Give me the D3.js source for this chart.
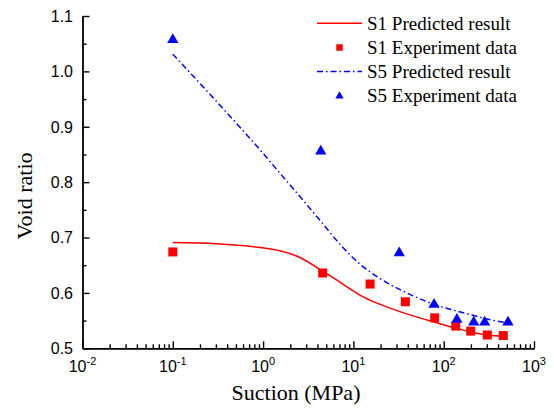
<!DOCTYPE html>
<html>
<head>
<meta charset="utf-8">
<script src="https://cdn.jsdelivr.net/npm/d3@7"></script>
<style>
  body { margin: 0; background: #fff; }
  svg { display: block; }
</style>
</head>
<body>
<div id="chart"></div>
<script>
// data
var xTicks = [ 0.01, 0.1, 1, 10, 100, 1000 ];
var xTickExp = [ "-2", "-1", "0", "1", "2", "3" ];
var yTicks = [ 0.5, 0.6, 0.7, 0.8, 0.9, 1.0, 1.1 ];
var yTickLabels = [ "0.5", "0.6", "0.7", "0.8", "0.9", "1.0", "1.1" ];

var s1PredSuction = [ 0.1, 0.3, 0.93, 1.54, 2.56, 4.57, 6.0, 8.5, 11.8, 15.3, 25, 36, 84, 139, 195, 300, 500 ];
var s1PredVoid = [ 0.691, 0.689, 0.682, 0.676, 0.664, 0.639, 0.627, 0.611, 0.596, 0.587, 0.573, 0.564, 0.546, 0.536, 0.530, 0.524, 0.5215 ];

var s1ExpSuction = [ 0.1, 4.57, 15.3, 37.6, 79.5, 136, 199, 304, 457 ];
var s1ExpVoid = [ 0.674, 0.636, 0.616, 0.584, 0.555, 0.540, 0.531, 0.524, 0.523 ];

var s5PredSuction = [ 0.1, 0.3, 1, 1.54, 2.56, 4.27, 7.1, 11.8, 15.3, 25, 35.7, 76.7, 195, 300, 500 ];
var s5PredVoid = [ 1.031, 0.947, 0.852, 0.816, 0.774, 0.731, 0.688, 0.652, 0.638, 0.616, 0.603, 0.580, 0.561, 0.553, 0.546 ];

var s5ExpSuction = [ 0.1, 4.35, 32.2, 78.2, 140, 215, 284, 515 ];
var s5ExpVoid = [ 1.057, 0.856, 0.672, 0.579, 0.552, 0.547, 0.547, 0.547 ];

var legendLabels = [ "S1 Predicted result", "S1 Experiment data", "S5 Predicted result", "S5 Experiment data" ];

var width = 554, height = 410;
var serif = "'Liberation Serif', 'Times New Roman', serif";
var sans = "'Liberation Sans', Arial, sans-serif";

var xScale = d3.scaleLog().domain( [ 0.01, 1000 ] ).range( [ 82.5, 534 ] );
var yScale = d3.scaleLinear().domain( [ 0.5, 1.1 ] ).range( [ 348.3, 16 ] );

var svg = d3.select( "#chart" ).append( "svg" )
	.attr( "width", width )
	.attr( "height", height )
	.attr( "viewBox", [ 0, 0, width, height ] );

// minor ticks
var xMinor = [];
for ( var d = -2; d < 3; d++ ) {
	for ( var k = 2; k <= 9; k++ ) {
		xMinor.push( k * Math.pow( 10, d ) );
	}
}
var yMinor = [ 0.55, 0.65, 0.75, 0.85, 0.95, 1.05 ];

function styleAxis( g ) {
	g.selectAll( "path, line" ).attr( "stroke", "#000" ).attr( "stroke-width", 1.4 );
	g.selectAll( "text" ).remove();
}

svg.append( "g" )
	.attr( "transform", "translate(0," + yScale( 0.5 ) + ")" )
	.call( d3.axisBottom( xScale ).tickValues( xMinor ).tickSize( -4 ).tickSizeOuter( 0 ) )
	.call( styleAxis );
svg.append( "g" )
	.attr( "transform", "translate(0," + yScale( 0.5 ) + ")" )
	.call( d3.axisBottom( xScale ).tickValues( xTicks ).tickSize( -7 ).tickSizeOuter( 0 ) )
	.call( styleAxis );

svg.append( "g" )
	.attr( "transform", "translate(" + xScale( 0.01 ) + ",0)" )
	.call( d3.axisLeft( yScale ).tickValues( yMinor ).tickSize( -4 ).tickSizeOuter( 0 ) )
	.call( styleAxis );
svg.append( "g" )
	.attr( "transform", "translate(" + xScale( 0.01 ) + ",0)" )
	.call( d3.axisLeft( yScale ).tickValues( yTicks ).tickSize( -7 ).tickSizeOuter( 0 ) )
	.call( styleAxis );

// tick labels
svg.append( "g" ).selectAll( "text" )
	.data( yTicks )
	.join( "text" )
	.attr( "x", 73 )
	.attr( "y", d => yScale( d ) )
	.attr( "dy", "0.36em" )
	.attr( "text-anchor", "end" )
	.style( "font-family", sans )
	.style( "font-size", "16px" )
	.text( ( d, i ) => yTickLabels[ i ] );

var xl = svg.append( "g" ).selectAll( "text" )
	.data( xTicks )
	.join( "text" )
	.attr( "x", d => xScale( d ) )
	.attr( "y", 372 )
	.attr( "text-anchor", "middle" )
	.style( "font-family", sans )
	.style( "font-size", "16px" );
xl.append( "tspan" ).text( "10" );
xl.append( "tspan" )
	.attr( "dy", -7 )
	.style( "font-size", "11px" )
	.text( ( d, i ) => xTickExp[ i ] );

// axis titles
svg.append( "text" )
	.attr( "transform", "translate(32,196) rotate(-90)" )
	.attr( "text-anchor", "middle" )
	.style( "font-family", serif )
	.style( "font-size", "22px" )
	.text( "Void ratio" );

svg.append( "text" )
	.attr( "x", 296 )
	.attr( "y", 400 )
	.attr( "text-anchor", "middle" )
	.style( "font-family", serif )
	.style( "font-size", "22px" )
	.text( "Suction (MPa)" );

// curves
var line = d3.line()
	.x( d => xScale( d[0] ) )
	.y( d => yScale( d[1] ) )
	.curve( d3.curveMonotoneX );

svg.append( "path" )
	.datum( d3.zip( s1PredSuction, s1PredVoid ) )
	.attr( "d", line )
	.attr( "fill", "none" )
	.attr( "stroke", "#ff0000" )
	.attr( "stroke-width", 1.5 );

svg.append( "path" )
	.datum( d3.zip( s5PredSuction, s5PredVoid ) )
	.attr( "d", line )
	.attr( "fill", "none" )
	.attr( "stroke", "#0000ff" )
	.attr( "stroke-width", 1.5 )
	.attr( "stroke-dasharray", "6,3,1.5,3" );

// markers
var square = d3.symbol().type( d3.symbolSquare ).size( 81 );
var triangle = d3.symbol().type( d3.symbolTriangle ).size( 55 );

svg.append( "g" ).selectAll( "path" )
	.data( d3.zip( s1ExpSuction, s1ExpVoid ) )
	.join( "path" )
	.attr( "d", square )
	.attr( "transform", d => "translate(" + xScale( d[0] ) + "," + yScale( d[1] ) + ")" )
	.attr( "fill", "#ff0000" );

svg.append( "g" ).selectAll( "path" )
	.data( d3.zip( s5ExpSuction, s5ExpVoid ) )
	.join( "path" )
	.attr( "d", triangle )
	.attr( "transform", d => "translate(" + xScale( d[0] ) + "," + yScale( d[1] ) + ")" )
	.attr( "fill", "#0000ff" );

// legend
var legendY = [ 23.3, 47.5, 71.5, 96 ];
var legend = svg.append( "g" );
legend.selectAll( "text" )
	.data( legendLabels )
	.join( "text" )
	.attr( "x", 367 )
	.attr( "y", ( d, i ) => legendY[ i ] )
	.attr( "dy", "0.33em" )
	.style( "font-family", serif )
	.style( "font-size", "19px" )
	.text( d => d );

legend.append( "line" )
	.attr( "x1", 317 ).attr( "x2", 362 )
	.attr( "y1", legendY[0] ).attr( "y2", legendY[0] )
	.attr( "stroke", "#ff0000" ).attr( "stroke-width", 1.5 );
legend.append( "path" )
	.attr( "d", d3.symbol().type( d3.symbolSquare ).size( 42 ) )
	.attr( "transform", "translate(339.5," + legendY[1] + ")" )
	.attr( "fill", "#ff0000" );
legend.append( "line" )
	.attr( "x1", 317 ).attr( "x2", 362 )
	.attr( "y1", legendY[2] ).attr( "y2", legendY[2] )
	.attr( "stroke", "#0000ff" ).attr( "stroke-width", 1.5 )
	.attr( "stroke-dasharray", "6,3,1.5,3" );
legend.append( "path" )
	.attr( "d", d3.symbol().type( d3.symbolTriangle ).size( 30 ) )
	.attr( "transform", "translate(339.5," + legendY[3] + ")" )
	.attr( "fill", "#0000ff" );
</script>
</body>
</html>
